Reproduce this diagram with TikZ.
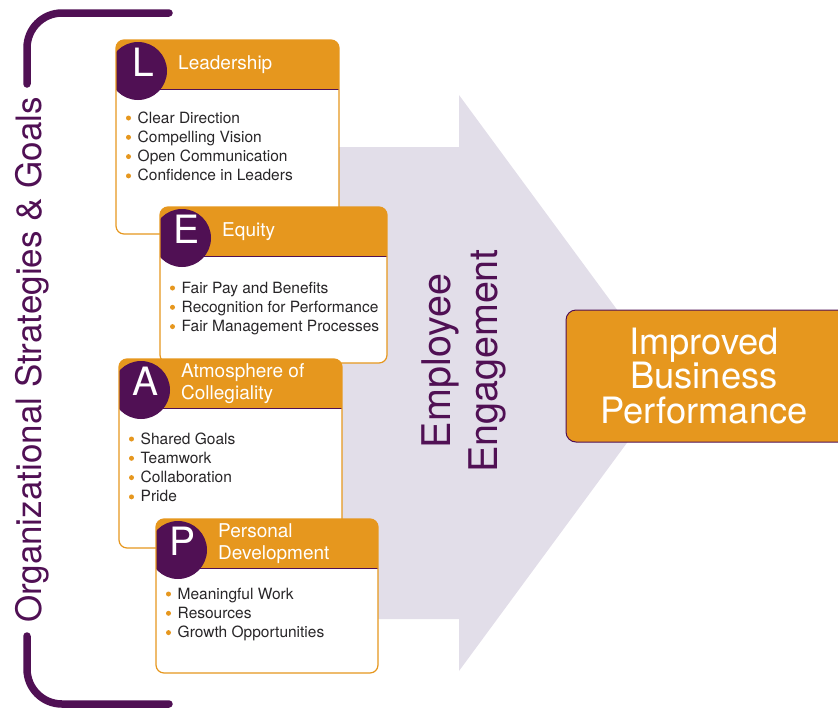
\documentclass[tikz,border=0pt]{standalone}
\usepackage{fontspec}
\setmainfont{TeX Gyre Heros}
\usepackage{tikz}
\usetikzlibrary{positioning}

\definecolor{leaporange}{RGB}{230,151,30}
\definecolor{leappurple}{RGB}{80,16,84}
\definecolor{leaplilac}{RGB}{226,222,233}
\definecolor{leaptext}{RGB}{40,38,40}

\tikzset{
	card/.style={fill=white, rounded corners=8pt, inner sep=0pt, outer sep=0pt},
	cardline/.style={draw=leaporange, line width=1.2pt, rounded corners=8pt},
	letter/.style={text=white, inner sep=0pt, font=\fontsize{39}{39}\selectfont},
	cardtitle/.style={text=white, inner sep=0pt, align=left, font=\fontsize{19}{22.5}\selectfont},
	item/.style={text=leaptext, inner sep=0pt, font=\fontsize{15.5}{18}\selectfont},
	dot/.style={fill=leaporange},
	goalbox/.style={fill=leaporange, draw=leappurple, line width=1pt, rounded corners=10pt, inner sep=0pt, outer sep=0pt},
	goaltext/.style={text=white, align=center, inner sep=0pt, font=\fontsize{36.3}{34.5}\selectfont},
	bigtext/.style={text=leappurple, inner sep=0pt, rotate=90, anchor=base},
	bracket/.style={leappurple, line width=7.5pt, line cap=round, rounded corners=35pt}
}

% one card: name, x, y, width, height, letter, title, items, first baseline
\newcommand{\leapcard}[9]{%
	\node[card, minimum width=#4, minimum height=#5, anchor=north west] (#1) at (#2,#3) {};
	\begin{scope}
		\clip[rounded corners=8pt] (#1.north west) rectangle (#1.south east);
		\fill[leaporange] (#1.north west) rectangle ([yshift=-49pt]#1.north east);
		\fill[leappurple] ([shift={(22pt,-31pt)}]#1.north west) circle (29pt);
	\end{scope}
	\draw[leappurple, line width=1pt] ([yshift=-49pt]#1.north west) -- ([yshift=-49pt]#1.north east);
	\draw[cardline] (#1.north west) rectangle (#1.south east);
	\node[letter] (#1-letter) at ([shift={(27pt,-22pt)}]#1.north west) {#6};
	\node[cardtitle, anchor=west] (#1-title) at ([shift={(62pt,-24.5pt)}]#1.north west) {#7};
	\foreach \t [count=\i] in {#8} {
		\pgfmathsetmacro{\yy}{#9+19.3*(\i-1)}
		\node[item, anchor=base west] (#1-\i) at ([shift={(21.5pt,-\yy pt)}]#1.north west) {\t};
		\fill[dot] ([shift={(-9pt,5pt)}]#1-\i.base west) circle (2.5pt);
	}
}

\begin{document}
\begin{tikzpicture}[x=1pt, y=-1pt]

\useasboundingbox (0,0) rectangle (838,707);

% Bracket on the left
\draw[bracket] (169,13) -- (27,13) -- (27,84);
\draw[bracket] (27,636) -- (27,704) -- (169,704);
\node[bigtext, font=\fontsize{35}{35}\selectfont] (goals) at (41,360) {Organizational Strategies \& Goals};

% Big arrow
\fill[leaplilac] (300,147) -- (459,147) -- (459,95) -- (671,383) -- (459,671) -- (459,619) -- (300,619) -- cycle;
\node[bigtext, font=\fontsize{39.5}{47}\selectfont] (employee) at (450,361) {Employee};
\node[bigtext, font=\fontsize{39.5}{47}\selectfont] (engagement) at (497,361) {Engagement};

% Result box
\node[goalbox, minimum width=290, minimum height=132, anchor=north west] (goal) at (566,310) {};
\node[goaltext] (goal-text) at ([xshift=-7pt]goal.center) {Improved\\Business\\Performance};

% Cards
\leapcard{L}{116}{40}{223}{194}{L}{Leadership}{Clear Direction, Compelling Vision, Open Communication, Confidence in Leaders}{83}
\leapcard{E}{160}{207}{227}{156}{E}{Equity}{Fair Pay and Benefits, Recognition for Performance, Fair Management Processes}{86}
\leapcard{A}{119}{359}{223}{189}{A}{Atmosphere of\\Collegiality}{Shared Goals, Teamwork, Collaboration, Pride}{85}
\leapcard{P}{156}{519}{222}{154}{P}{Personal\\Development}{Meaningful Work, Resources, Growth Opportunities}{80}

\end{tikzpicture}
\end{document}
